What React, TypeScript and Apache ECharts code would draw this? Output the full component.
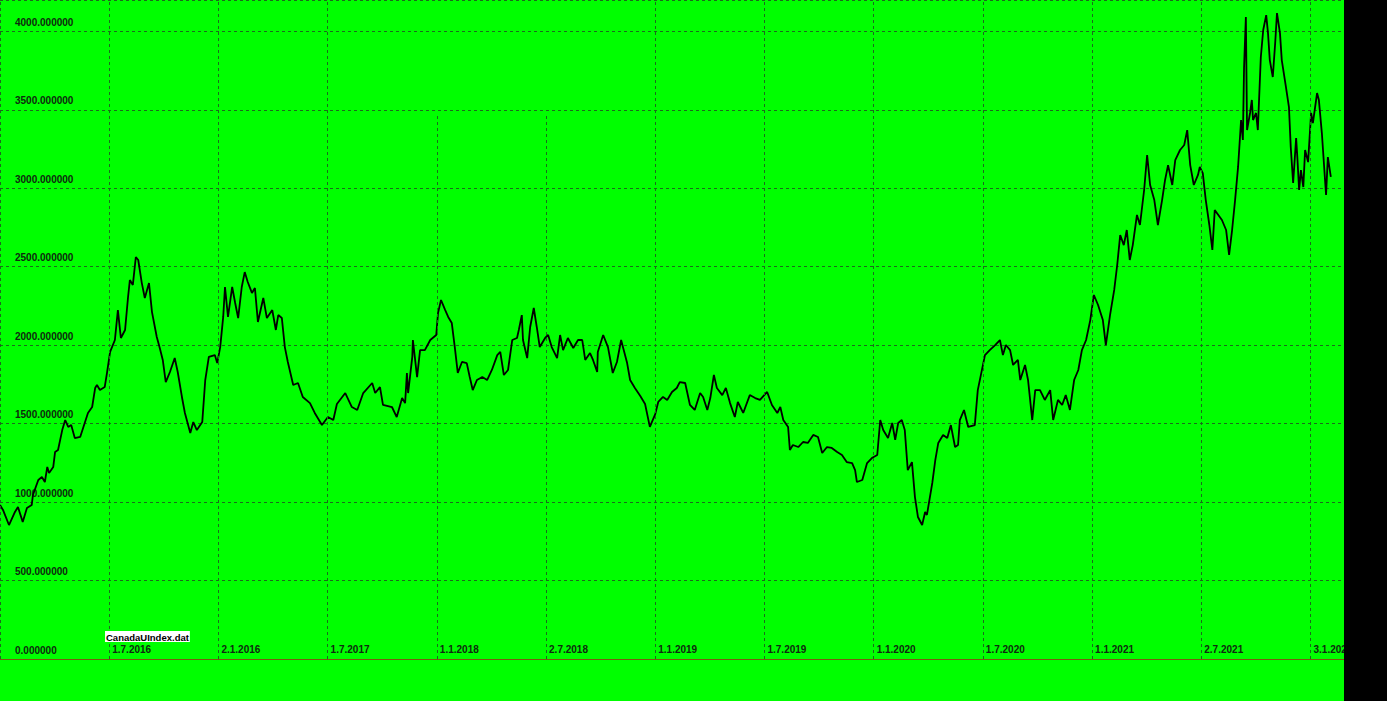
import React, { useEffect, useRef } from "react";
import * as echarts from "echarts";

const seriesName = "CanadaUIndex.dat";

// days since 1.1.2016
const dayOffsets = [
  0, 5, 15, 25, 30, 38, 45, 53, 55, 64, 70, 75, 79, 82, 89, 92, 97, 104, 109, 114,
  119, 125, 134, 147, 154, 159, 162, 167, 175, 179, 184, 192, 197, 202, 209, 214, 217, 222, 227, 231,
  237, 242, 249, 254, 262, 267, 272, 277, 284, 292, 297, 304, 309, 318, 323, 329, 338, 343, 349, 359,
  363, 368, 373, 376, 381, 388, 393, 398, 404, 409, 414, 421, 426, 431, 440, 446, 455, 461, 465, 471,
  476, 481, 490, 498, 506, 518, 526, 538, 548, 557, 563, 577, 588, 597, 607, 622, 627, 635, 640, 655,
  663, 672, 677, 680, 682, 689, 690, 697, 702, 710, 719, 729, 732, 737, 744, 749, 755, 760, 765, 772,
  780, 785, 790, 797, 806, 814, 822, 831, 836, 842, 849, 856, 864, 867, 872, 874, 881, 886, 892, 897,
  902, 911, 916, 922, 931, 936, 941, 949, 958, 966, 973, 978, 986, 991, 998, 999, 1008, 1016, 1024, 1031,
  1038, 1041, 1048, 1053, 1061, 1070, 1078, 1086, 1095, 1100, 1108, 1115, 1123, 1131, 1136, 1145, 1153, 1161, 1170, 1175,
  1182, 1187, 1193, 1198, 1207, 1213, 1220, 1228, 1233, 1242, 1253, 1262, 1270, 1282, 1290, 1299, 1304, 1309, 1317, 1320,
  1325, 1334, 1342, 1350, 1359, 1367, 1374, 1382, 1390, 1399, 1407, 1415, 1424, 1429, 1432, 1441, 1449, 1457, 1466, 1471,
  1476, 1484, 1491, 1496, 1501, 1507, 1512, 1517, 1524, 1529, 1534, 1541, 1546, 1549, 1558, 1563, 1568, 1576, 1583, 1589,
  1596, 1601, 1604, 1611, 1618, 1629, 1634, 1646, 1654, 1663, 1671, 1676, 1681, 1688, 1693, 1701, 1705, 1713, 1718, 1725,
  1730, 1738, 1746, 1755, 1760, 1768, 1775, 1781, 1788, 1795, 1802, 1808, 1815, 1822, 1828, 1835, 1843, 1848, 1855, 1862,
  1867, 1872, 1878, 1883, 1888, 1893, 1900, 1905, 1912, 1917, 1922, 1929, 1935, 1942, 1947, 1952, 1959, 1964, 1972, 1979,
  1984, 1989, 1995, 2002, 2005, 2010, 2015, 2021, 2026, 2030, 2036, 2042, 2049, 2054, 2059, 2064, 2069, 2074, 2077, 2079,
  2082, 2084, 2089, 2092, 2094, 2099, 2102, 2107, 2111, 2116, 2119, 2122, 2127, 2131, 2134, 2139, 2142, 2149, 2154, 2157,
  2161, 2166, 2168, 2171, 2174, 2178, 2181, 2186, 2191, 2194, 2201, 2204, 2209, 2216, 2219, 2224,
];

const indexValues = [
  981, 950, 854, 937, 969, 873, 962, 981, 1045, 1141, 1160, 1128, 1224, 1185, 1224, 1319, 1332, 1459, 1523, 1479,
  1491, 1408, 1415, 1568, 1606, 1727, 1746, 1714, 1733, 1829, 1957, 2033, 2224, 2046, 2097, 2307, 2415, 2384, 2562, 2543,
  2396, 2301, 2396, 2211, 2052, 1982, 1906, 1765, 1829, 1918, 1829, 1670, 1568, 1440, 1510, 1459, 1510, 1778, 1925, 1937,
  1886, 1988, 2180, 2371, 2180, 2371, 2269, 2173, 2371, 2466, 2403, 2333, 2364, 2148, 2301, 2173, 2224, 2097, 2192, 2173,
  1988, 1893, 1746, 1759, 1670, 1631, 1568, 1491, 1542, 1523, 1625, 1695, 1606, 1587, 1695, 1759, 1695, 1733, 1619, 1606,
  1542, 1663, 1631, 1823, 1695, 1925, 2033, 1797, 1969, 1969, 2033, 2065, 2205, 2288, 2224, 2180, 2141, 1988, 1823, 1893,
  1886, 1797, 1714, 1778, 1797, 1778, 1842, 1937, 1957, 1810, 1842, 2033, 2046, 2097, 2192, 2033, 1918, 2116, 2237, 2116,
  1988, 2046, 2065, 1988, 1918, 2065, 1969, 2046, 1982, 2033, 2033, 1906, 1950, 1906, 1829, 1957, 2065, 1988, 1823, 1893,
  2033, 1988, 1886, 1778, 1727, 1676, 1625, 1479, 1561, 1638, 1670, 1651, 1702, 1727, 1765, 1759, 1619, 1587, 1695, 1670,
  1587, 1663, 1810, 1727, 1682, 1727, 1631, 1542, 1638, 1568, 1682, 1663, 1651, 1702, 1619, 1568, 1606, 1523, 1479, 1332,
  1364, 1351, 1383, 1377, 1428, 1415, 1313, 1351, 1345, 1319, 1300, 1255, 1249, 1204, 1128, 1141, 1249, 1281, 1300, 1523,
  1459, 1408, 1504, 1396, 1504, 1523, 1459, 1204, 1255, 1032, 905, 854, 937, 918, 1122, 1268, 1377, 1428, 1408, 1491,
  1351, 1364, 1523, 1587, 1479, 1491, 1714, 1937, 1969, 2001, 2033, 1937, 2001, 1969, 1874, 1906, 1778, 1874, 1778, 1523,
  1714, 1714, 1651, 1714, 1523, 1651, 1619, 1682, 1587, 1778, 1842, 1969, 2033, 2160, 2320, 2256, 2160, 2001, 2192, 2352,
  2511, 2702, 2638, 2734, 2543, 2638, 2830, 2766, 2989, 3212, 3021, 2925, 2766, 2925, 3053, 3148, 3021, 3180, 3244, 3276,
  3371, 3148, 3021, 3085, 3136, 3097, 2925, 2766, 2607, 2861, 2830, 2798, 2734, 2575, 2734, 2925, 3136, 3435, 3308, 3773,
  4091, 3371, 3480, 3563, 3435, 3480, 3371, 3837, 4009, 4104, 3989, 3817, 3709, 3926, 4117, 3989, 3817, 3645, 3518, 3263,
  3034, 3320, 3199, 2989, 3116, 3008, 3244, 3167, 3480, 3416, 3607, 3563, 3352, 2957, 3199, 3072,
];

const xTickLabels = [
  "", "1.7.2016", "2.1.2016", "1.7.2017", "1.1.2018", "2.7.2018", "1.1.2019",
  "1.7.2019", "1.1.2020", "1.7.2020", "1.1.2021", "2.7.2021", "3.1.2022",
];

const HALF_YEAR = 182.5;
const X_MAX = 2246;
const Y_MAX = 4200;
const Y_STEP = 500;
const SHORT_GRID_TOP = 3470;

export default function App() {
  const ref = useRef<HTMLDivElement>(null);

  useEffect(() => {
    if (!ref.current) return;
    const chart = echarts.init(ref.current, null, { renderer: "svg" });
    const gridColor = "#1c6a1c";
    const labelColor = "#0f2a0f";
    const fontFamily = "Liberation Sans";

    const vLines = xTickLabels.map((_, i) => {
      const x = i * HALF_YEAR;
      const top = i === 4 || i === 5 ? SHORT_GRID_TOP : Y_MAX;
      return [{ coord: [x, 0] }, { coord: [x, top] }];
    });

    chart.setOption({
      animation: false,
      backgroundColor: "#00ff00",
      grid: {
        left: 0,
        top: 0,
        width: 1344,
        height: 659,
        containLabel: false,
        outerBoundsMode: "none",
      },
      xAxis: {
        type: "value",
        min: 0,
        max: X_MAX,
        interval: HALF_YEAR,
        axisLine: { show: true, onZero: false, lineStyle: { color: "#7a5a10", width: 1 } },
        axisTick: { show: false },
        splitLine: { show: false },
        axisLabel: {
          inside: true,
          margin: 4,
          align: "left",
          verticalAlign: "bottom",
          padding: [0, 0, 1, 3],
          color: labelColor,
          fontFamily,
          fontWeight: "bold",
          fontSize: 10,
          formatter: (v: number) => {
            const i = Math.round(v / HALF_YEAR);
            if (Math.abs(v - i * HALF_YEAR) > 0.5) return "";
            return xTickLabels[i] ?? "";
          },
        },
      },
      yAxis: {
        type: "value",
        min: 0,
        max: Y_MAX,
        interval: Y_STEP,
        axisLine: { show: false },
        axisTick: { show: false },
        splitLine: { show: true, lineStyle: { color: gridColor, type: [3, 3], width: 1 } },
        axisLabel: {
          inside: true,
          margin: 15,
          align: "left",
          verticalAlign: "bottom",
          padding: [0, 0, 4, 0],
          color: labelColor,
          fontFamily,
          fontWeight: "bold",
          fontSize: 10,
          formatter: (v: number) => (v % Y_STEP === 0 ? v.toFixed(6) : ""),
        },
      },
      series: [
        {
          name: "grid",
          type: "line",
          data: [],
          silent: true,
          markLine: {
            silent: true,
            symbol: "none",
            label: { show: false },
            lineStyle: { color: gridColor, type: [3, 3], width: 1 },
            emphasis: { disabled: true },
            data: vLines,
          },
        },
        {
          name: seriesName,
          type: "line",
          data: dayOffsets.map((d, i) => [d, indexValues[i]]),
          showSymbol: false,
          symbol: "none",
          lineStyle: { color: "#000000", width: 1.8 },
          silent: true,
        },
      ],
      graphic: [
        {
          type: "rect",
          z: 100,
          shape: { x: 1344, y: 0, width: 43, height: 701 },
          style: { fill: "#000000" },
        },
        {
          type: "text",
          z: 100,
          x: 105,
          y: 631,
          style: {
            text: seriesName,
            fill: "#000000",
            font: 'bold 9.5px "Liberation Sans"',
            backgroundColor: "#ffffff",
            padding: [1, 1, 0, 1],
          },
        },
      ],
    });

    return () => chart.dispose();
  }, []);

  return (
    <div
      ref={ref}
      style={{ position: "fixed", left: 0, top: 0, width: 1387, height: 701 }}
    />
  );
}
